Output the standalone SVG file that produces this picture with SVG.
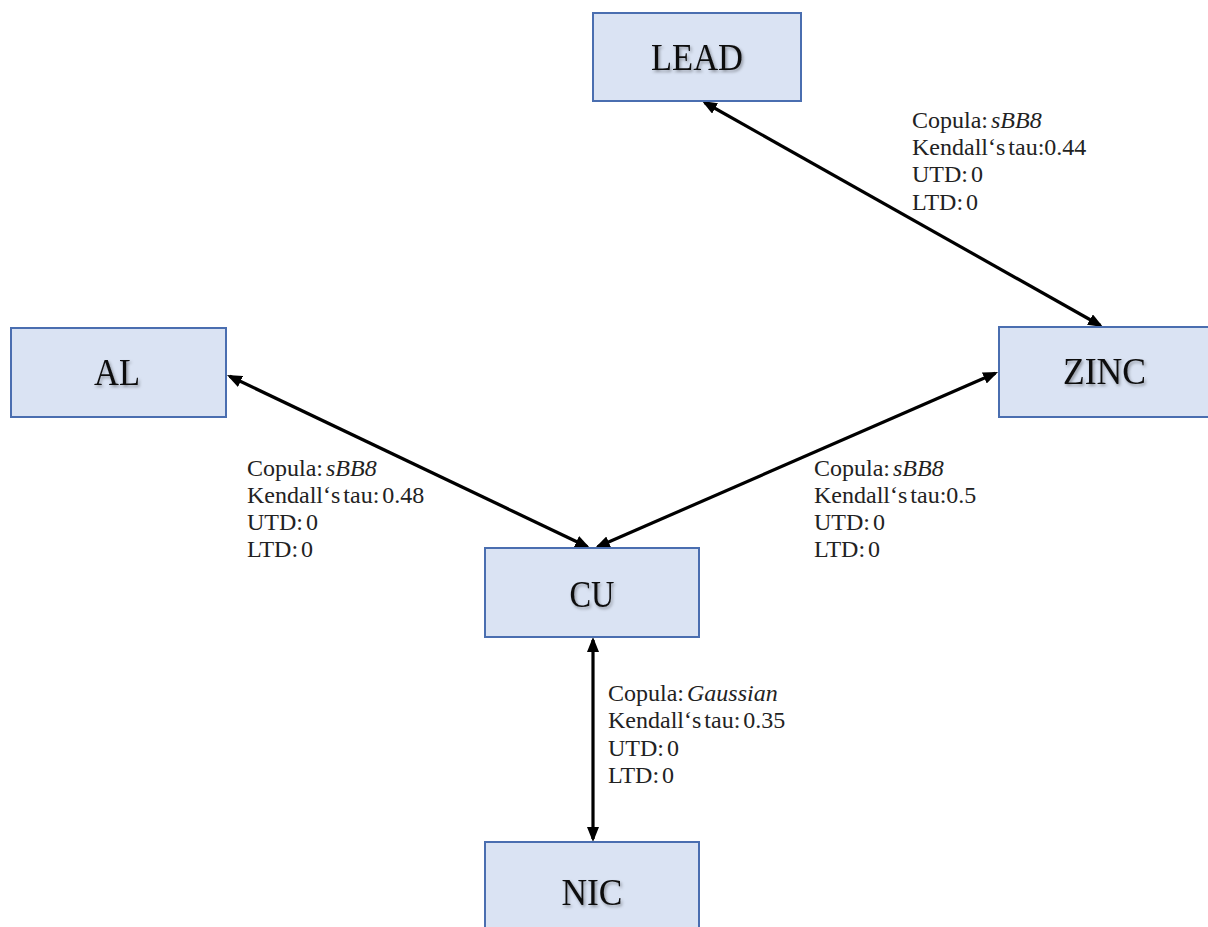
<svg xmlns="http://www.w3.org/2000/svg" width="1208" height="927" viewBox="0 0 1208 927">
<style>
.box{fill:#dae3f3;stroke:#4a6eb0;stroke-width:2}
.nl{font-family:"Liberation Serif","Times New Roman",serif;font-size:37px;fill:#111;text-anchor:middle;filter:url(#sh)}
.lb{font-family:"Liberation Serif","Times New Roman",serif;font-size:24px;fill:#222;word-spacing:-3px}
.lb tspan.i{font-style:italic}
.cn{stroke:#000;stroke-width:3.2;fill:none;marker-start:url(#ah);marker-end:url(#ah)}
</style>
<defs>
<marker id="ah" markerUnits="userSpaceOnUse" markerWidth="15" markerHeight="12" refX="12" refY="6" orient="auto-start-reverse">
<path d="M0,0 L15,6 L0,12 z" fill="#000"/>
</marker>
<filter id="sh" x="-20%" y="-20%" width="140%" height="160%">
<feDropShadow dx="1.5" dy="2" stdDeviation="1.5" flood-color="#000" flood-opacity="0.35"/>
</filter>
</defs>
<rect width="1208" height="927" fill="#fff"/>
<g id="connectors">
<line class="cn" x1="704.6" y1="102.5" x2="1100.4" y2="325.5"/>
<line class="cn" x1="229.7" y1="376.3" x2="587.3" y2="546.7"/>
<line class="cn" x1="995.3" y1="373.2" x2="597.7" y2="546.8"/>
<line class="cn" x1="593" y1="640" x2="593" y2="839"/>
</g>
<g id="lead">
<rect class="box" x="593" y="13" width="208" height="88"/>
<text class="nl" x="697" y="70" textLength="92" lengthAdjust="spacingAndGlyphs">LEAD</text>
</g>
<g id="al">
<rect class="box" x="11" y="328" width="215" height="89"/>
<text class="nl" x="117" y="385" textLength="46" lengthAdjust="spacingAndGlyphs">AL</text>
</g>
<g id="zinc">
<rect class="box" x="999" y="327" width="210" height="90"/>
<text class="nl" x="1104.5" y="384" textLength="83" lengthAdjust="spacingAndGlyphs">ZINC</text>
</g>
<g id="cu">
<rect class="box" x="485" y="548" width="214" height="89"/>
<text class="nl" x="592" y="607" textLength="45" lengthAdjust="spacingAndGlyphs">CU</text>
</g>
<g id="nic">
<rect class="box" x="485" y="842" width="214" height="90"/>
<text class="nl" x="592" y="905" textLength="61" lengthAdjust="spacingAndGlyphs">NIC</text>
</g>
<g id="labels">
<text class="lb" x="912" y="128">Copula: <tspan class="i">sBB8</tspan></text>
<text class="lb" x="912" y="155">Kendall‘s tau:0.44</text>
<text class="lb" x="912" y="182">UTD: 0</text>
<text class="lb" x="912" y="210">LTD: 0</text>
<text class="lb" x="247" y="476">Copula: <tspan class="i">sBB8</tspan></text>
<text class="lb" x="247" y="503">Kendall‘s tau: 0.48</text>
<text class="lb" x="247" y="530">UTD: 0</text>
<text class="lb" x="247" y="557">LTD: 0</text>
<text class="lb" x="814" y="476">Copula: <tspan class="i">sBB8</tspan></text>
<text class="lb" x="814" y="503">Kendall‘s tau:0.5</text>
<text class="lb" x="814" y="530">UTD: 0</text>
<text class="lb" x="814" y="557">LTD: 0</text>
<text class="lb" x="608" y="701">Copula: <tspan class="i">Gaussian</tspan></text>
<text class="lb" x="608" y="728">Kendall‘s tau: 0.35</text>
<text class="lb" x="608" y="756">UTD: 0</text>
<text class="lb" x="608" y="783">LTD: 0</text>
</g>
</svg>
